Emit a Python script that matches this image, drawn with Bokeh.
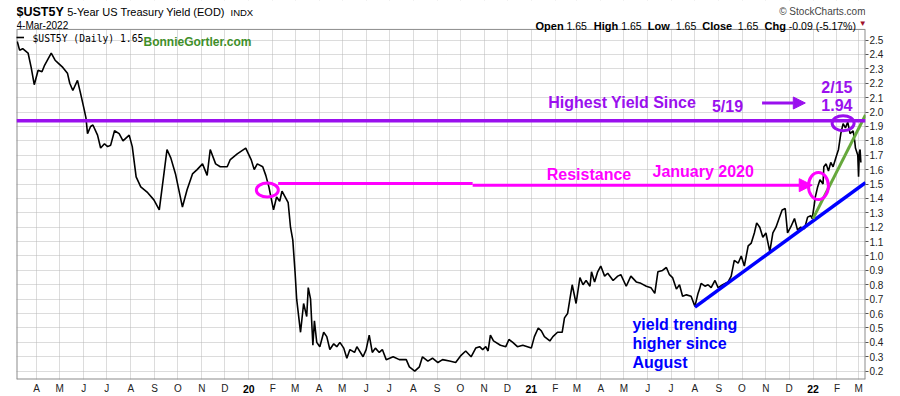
import pandas as pd
from bokeh.plotting import figure
from bokeh.models import (Range1d, FixedTicker, Label, Span, Arrow, NormalHead,
                          PrintfTickFormatter, DatetimeAxis)
from bokeh.embed import file_html
from bokeh.resources import INLINE

# ---------------- data ----------------
dates = [
    "2019-03-07", "2019-03-10", "2019-03-14", "2019-03-21", "2019-03-25", "2019-03-29",
    "2019-04-03", "2019-04-08", "2019-04-11", "2019-04-17", "2019-04-20", "2019-04-25",
    "2019-04-29", "2019-05-05", "2019-05-11", "2019-05-14", "2019-05-18", "2019-05-24",
    "2019-05-28", "2019-06-02", "2019-06-04", "2019-06-06", "2019-06-10", "2019-06-13",
    "2019-06-19", "2019-06-23", "2019-06-28", "2019-07-02", "2019-07-06", "2019-07-11",
    "2019-07-17", "2019-07-22", "2019-07-30", "2019-08-03", "2019-08-08", "2019-08-14",
    "2019-08-23", "2019-08-31", "2019-09-07", "2019-09-13", "2019-09-17", "2019-09-22",
    "2019-09-28", "2019-10-07", "2019-10-13", "2019-10-20", "2019-10-26", "2019-11-02",
    "2019-11-08", "2019-11-12", "2019-11-19", "2019-11-25", "2019-12-04", "2019-12-08",
    "2019-12-17", "2019-12-28",
    "2020-01-04", "2020-01-08", "2020-01-12", "2020-01-19", "2020-01-23", "2020-01-27",
    "2020-02-02", "2020-02-06", "2020-02-10", "2020-02-13", "2020-02-17", "2020-02-21",
    "2020-02-24", "2020-02-27", "2020-03-01", "2020-03-03", "2020-03-08", "2020-03-12",
    "2020-03-16", "2020-03-18", "2020-03-21", "2020-03-24", "2020-03-26", "2020-03-29",
    "2020-04-02", "2020-04-07", "2020-04-11", "2020-04-15", "2020-04-20", "2020-04-24",
    "2020-04-28", "2020-05-03", "2020-05-07", "2020-05-11", "2020-05-17", "2020-05-20",
    "2020-05-28", "2020-06-01", "2020-06-05", "2020-06-09", "2020-06-13", "2020-06-18",
    "2020-06-22", "2020-06-27", "2020-07-06", "2020-07-14", "2020-07-23", "2020-07-27",
    "2020-08-03", "2020-08-09", "2020-08-13", "2020-08-20", "2020-08-26", "2020-09-02",
    "2020-09-08", "2020-09-17", "2020-09-25", "2020-10-02", "2020-10-08", "2020-10-15",
    "2020-10-21", "2020-10-26", "2020-10-30", "2020-11-03", "2020-11-06", "2020-11-09",
    "2020-11-13", "2020-11-22", "2020-11-29", "2020-12-03", "2020-12-08", "2020-12-14",
    "2020-12-21", "2020-12-27",
    "2021-01-01", "2021-01-05", "2021-01-10", "2021-01-14", "2021-01-18", "2021-01-25",
    "2021-01-29", "2021-02-04", "2021-02-10", "2021-02-13", "2021-02-17", "2021-02-20",
    "2021-02-23", "2021-02-28", "2021-03-05", "2021-03-09", "2021-03-13", "2021-03-18",
    "2021-03-20", "2021-03-24", "2021-03-28", "2021-04-01", "2021-04-06", "2021-04-10",
    "2021-04-17", "2021-04-23", "2021-04-27", "2021-05-04", "2021-05-10", "2021-05-17",
    "2021-05-23", "2021-05-30", "2021-06-05", "2021-06-10", "2021-06-14", "2021-06-20",
    "2021-06-25", "2021-06-29", "2021-07-03", "2021-07-08", "2021-07-12", "2021-07-16",
    "2021-07-21", "2021-07-27", "2021-08-01", "2021-08-05", "2021-08-07", "2021-08-09",
    "2021-08-14", "2021-08-18", "2021-08-22", "2021-08-27", "2021-08-31", "2021-09-06",
    "2021-09-13", "2021-09-17", "2021-09-21", "2021-09-26", "2021-09-30", "2021-10-04",
    "2021-10-09", "2021-10-13", "2021-10-17", "2021-10-20", "2021-10-24", "2021-10-28",
    "2021-11-01", "2021-11-06", "2021-11-10", "2021-11-14", "2021-11-18", "2021-11-22",
    "2021-11-26", "2021-11-29", "2021-12-03", "2021-12-08", "2021-12-12", "2021-12-16",
    "2021-12-21", "2021-12-25", "2021-12-29", "2021-12-31",
    "2022-01-03", "2022-01-04", "2022-01-07", "2022-01-10", "2022-01-14", "2022-01-15",
    "2022-01-18", "2022-01-21", "2022-01-24", "2022-01-27", "2022-01-31", "2022-02-03",
    "2022-02-06", "2022-02-09", "2022-02-12", "2022-02-15", "2022-02-18", "2022-02-22",
    "2022-02-24", "2022-02-25", "2022-02-28", "2022-03-01", "2022-03-02", "2022-03-03",
    "2022-03-04",
]
yields = [
    2.49, 2.43, 2.44, 2.41, 2.31, 2.19,
    2.29, 2.28, 2.32, 2.38, 2.41, 2.36,
    2.34, 2.31, 2.27, 2.20, 2.15, 2.22,
    2.13, 2.01, 1.96, 1.85, 1.90, 1.91,
    1.84, 1.75, 1.78, 1.76, 1.77, 1.87,
    1.85, 1.80, 1.84, 1.76, 1.55, 1.48,
    1.44, 1.39, 1.32, 1.57, 1.74, 1.68,
    1.57, 1.34, 1.46, 1.57, 1.60, 1.64,
    1.56, 1.74, 1.64, 1.62, 1.62, 1.67,
    1.71, 1.75,
    1.67, 1.60, 1.64, 1.62, 1.56, 1.48,
    1.32, 1.41, 1.38, 1.45, 1.41, 1.37,
    1.20, 1.11, 0.88, 0.70, 0.47, 0.67,
    0.58, 0.78, 0.70, 0.38, 0.55, 0.40,
    0.37, 0.47, 0.44, 0.35, 0.39, 0.37,
    0.40, 0.36, 0.29, 0.35, 0.33, 0.37,
    0.30, 0.35, 0.45, 0.33, 0.36, 0.33,
    0.35, 0.28, 0.30, 0.28, 0.28, 0.23,
    0.20, 0.23, 0.30, 0.27, 0.29, 0.26,
    0.28, 0.27, 0.26, 0.31, 0.34, 0.30,
    0.36, 0.37, 0.35, 0.37, 0.34, 0.45,
    0.41, 0.38, 0.37, 0.42, 0.40, 0.37,
    0.38, 0.37,
    0.36, 0.44, 0.50, 0.48, 0.44, 0.41,
    0.44, 0.47, 0.47, 0.57, 0.60, 0.70,
    0.80, 0.67, 0.85, 0.80, 0.83, 0.79,
    0.89, 0.82, 0.89, 0.93, 0.86, 0.88,
    0.83, 0.86, 0.87, 0.79, 0.86, 0.82,
    0.81, 0.79, 0.78, 0.74, 0.89, 0.90,
    0.92, 0.87, 0.85, 0.77, 0.80, 0.72,
    0.73, 0.72, 0.65, 0.74, 0.77, 0.81,
    0.79, 0.80, 0.78, 0.83, 0.78, 0.80,
    0.82, 0.86, 0.97, 0.95, 1.00, 0.93,
    1.07, 1.09, 1.16, 1.23, 1.20, 1.13,
    1.16, 1.03, 1.16, 1.20, 1.26, 1.32,
    1.33, 1.16, 1.20, 1.26, 1.18, 1.20,
    1.19, 1.27, 1.28, 1.26,
    1.37, 1.41, 1.48, 1.53, 1.50, 1.62,
    1.64, 1.59, 1.65, 1.62, 1.69, 1.74,
    1.85, 1.92, 1.89, 1.93, 1.85, 1.87,
    1.80, 1.75, 1.70, 1.55, 1.72, 1.74,
    1.65,
]

month_ticks = [
    "2019-04-01", "2019-05-01", "2019-06-01", "2019-07-01", "2019-08-01", "2019-09-01",
    "2019-10-01", "2019-11-01", "2019-12-01", "2020-01-01", "2020-02-01", "2020-03-01",
    "2020-04-01", "2020-05-01", "2020-06-01", "2020-07-01", "2020-08-01", "2020-09-01",
    "2020-10-01", "2020-11-01", "2020-12-01", "2021-01-01", "2021-02-01", "2021-03-01",
    "2021-04-01", "2021-05-01", "2021-06-01", "2021-07-01", "2021-08-01", "2021-09-01",
    "2021-10-01", "2021-11-01", "2021-12-01", "2022-01-01", "2022-02-01", "2022-03-01",
]
month_labels = [
    "A", "M", "J", "J", "A", "S", "O", "N", "D", "", "F", "M",
    "A", "M", "J", "J", "A", "S", "O", "N", "D", "", "F", "M",
    "A", "M", "J", "J", "A", "S", "O", "N", "D", "", "F", "M",
]
year_ticks = ["2020-01-01", "2021-01-01", "2022-01-01"]
year_labels = ["20", "21", "22"]
y_ticks = [0.2, 0.3, 0.4, 0.5, 0.6, 0.7, 0.8, 0.9, 1.0, 1.1, 1.2, 1.3,
           1.4, 1.5, 1.6, 1.7, 1.8, 1.9, 2.0, 2.1, 2.2, 2.3, 2.4, 2.5]

# annotation values
high_level = 1.94
blue_trend = [("2021-08-01", 0.645), ("2022-03-10", 1.51)]
green_trend = [("2022-01-01", 1.26), ("2022-03-10", 1.98)]
series_label = "$UST5Y (Daily) 1.65"

PURPLE = "#9a10ee"
MAGENTA = "#ff00ff"
BLUE = "#0000ff"
GREEN = "#66a83c"
BORDER = "#8c8c8c"
SANS = "Liberation Sans"

X0, X1 = "2019-03-06", "2022-03-10"   # visible date span
Y0, Y1 = 0.142, 2.574                 # visible yield span of the chart panel
Y_HEADER = 2.775                      # room above the panel for the header texts


def ms(s):
    return pd.Timestamp(s).value / 1e6


p = figure(width=896, height=396, x_axis_type="datetime", y_axis_location="right",
           output_backend="svg", toolbar_location=None, title=None,
           x_range=Range1d(ms(X0), ms(X1)), y_range=Range1d(Y0, Y_HEADER),
           min_border_left=16, min_border_right=31, min_border_top=0, min_border_bottom=16)
p.background_fill_color = "white"
p.border_fill_color = "white"
p.outline_line_color = None

# ---- axes ----
xt = FixedTicker(ticks=[ms(d) for d in month_ticks])
p.xaxis.ticker = xt
p.xaxis.major_label_overrides = {ms(d): lab for d, lab in zip(month_ticks, month_labels)}
p.xaxis.axis_line_color = None
p.xaxis.major_tick_line_color = None
p.xaxis.major_tick_out = 0
p.xaxis.major_tick_in = 0
p.xaxis.minor_tick_line_color = None
p.xaxis.major_label_standoff = 3
p.xaxis.major_label_text_font = SANS
p.xaxis.major_label_text_font_size = "10px"
p.xaxis.major_label_text_color = "#222222"

year_axis = DatetimeAxis(ticker=FixedTicker(ticks=[ms(d) for d in year_ticks]),
                         major_label_overrides={ms(d): lab for d, lab in zip(year_ticks, year_labels)},
                         axis_line_color=None, major_tick_line_color=None,
                         major_tick_out=0, major_tick_in=0, minor_tick_line_color=None,
                         major_label_standoff=-12, major_label_text_font=SANS,
                         major_label_text_font_size="10.5px", major_label_text_font_style="bold",
                         major_label_text_color="black")
p.add_layout(year_axis, "below")

p.yaxis.ticker = FixedTicker(ticks=y_ticks)
p.yaxis.formatter = PrintfTickFormatter(format="%.1f")
p.yaxis.axis_line_color = None
p.yaxis.major_tick_in = 0
p.yaxis.major_tick_out = 3
p.yaxis.major_tick_line_color = "#555555"
p.yaxis.minor_tick_line_color = None
p.yaxis.major_label_standoff = 1
p.yaxis.major_label_text_font = SANS
p.yaxis.major_label_text_font_size = "10px"
p.yaxis.major_label_text_color = "#222222"

p.xgrid.ticker = xt
for g in (p.xgrid, p.ygrid):
    g.grid_line_color = "#b8b8b8"
    g.grid_line_dash = "1 1"
    g.grid_line_width = 1

# white header strip above the chart panel, and the panel border
p.quad(left=[ms(X0)], right=[ms(X1)], bottom=[Y1], top=[Y_HEADER],
       fill_color="white", line_color=None)
p.line([ms(X0), ms(X1)], [Y1, Y1], line_color=BORDER, line_width=1)
p.line([ms(X0), ms(X1)], [Y0, Y0], line_color=BORDER, line_width=2)
p.line([ms(X0), ms(X0)], [Y0, Y1], line_color=BORDER, line_width=2)
p.line([ms(X1), ms(X1)], [Y0, Y1], line_color=BORDER, line_width=2)

# ---- main series ----
p.line(pd.to_datetime(dates), yields, line_color="black", line_width=1.6, legend_label=" ")

leg = p.legend[0]
leg.location = (0, 339)
leg.margin = 0
leg.padding = 3
leg.border_line_color = None
leg.background_fill_alpha = 0
leg.glyph_width = 8
leg.glyph_height = 6
leg.label_height = 6
leg.label_standoff = 0
leg.label_text_font_size = "2px"

# ---- trend lines / annotations ----
p.add_layout(Span(location=high_level, dimension="width", line_color=PURPLE, line_width=3.5))
p.line([ms(blue_trend[0][0]), ms(blue_trend[1][0])], [blue_trend[0][1], blue_trend[1][1]],
       line_color=BLUE, line_width=3.5)
p.line([ms(green_trend[0][0]), ms(green_trend[1][0])], [green_trend[0][1], green_trend[1][1]],
       line_color=GREEN, line_width=3)

p.line([ms("2020-02-08"), ms("2020-10-17")], [1.503, 1.503], line_color=MAGENTA, line_width=3)
p.add_layout(Arrow(end=NormalHead(size=13, fill_color=MAGENTA, line_color=MAGENTA),
                   x_start=ms("2020-10-17"), y_start=1.492, x_end=ms("2021-12-31"), y_end=1.492,
                   line_color=MAGENTA, line_width=3))
p.add_layout(Arrow(end=NormalHead(size=12, fill_color=PURPLE, line_color=PURPLE),
                   x_start=ms("2021-10-27"), y_start=2.063, x_end=ms("2021-12-22"), y_end=2.063,
                   line_color=PURPLE, line_width=3))

p.ellipse(x=[ms("2022-02-09")], y=[1.923], width=22, height=15, width_units="screen",
          height_units="screen", fill_color=None, line_color=PURPLE, line_width=3)
p.ellipse(x=[ms("2020-01-25")], y=[1.458], width=22, height=14, width_units="screen",
          height_units="screen", fill_color=None, line_color=MAGENTA, line_width=3)
p.ellipse(x=[ms("2022-01-08")], y=[1.486], width=20, height=27, width_units="screen",
          height_units="screen", fill_color=None, line_color=MAGENTA, line_width=3)


def note(text, x, y, color, align="left", size="16px"):
    p.add_layout(Label(x=ms(x), y=y, text=text, text_align=align, text_baseline="alphabetic",
                       text_font=SANS, text_font_size=size, text_font_style="bold",
                       text_color=color))


note("Highest Yield Since", "2021-01-23", 2.063, PURPLE)
note("5/19", "2021-08-23", 2.036, PURPLE)
note("2/15", "2022-02-01", 2.174, PURPLE, align="center")
note("1.94", "2022-02-01", 2.052, PURPLE, align="center")
note("Resistance", "2021-01-21", 1.567, MAGENTA)
note("January 2020", "2021-06-07", 1.590, MAGENTA)
note("yield trending", "2021-05-12", 0.523, BLUE)
note("higher since", "2021-05-12", 0.391, BLUE)
note("August", "2021-05-12", 0.257, BLUE)


def head(text, x, y, size, bold=False, color="black", align="left", font=SANS):
    p.add_layout(Label(x=x, y=y, x_units="screen", y_units="screen", text=text,
                       text_align=align, text_baseline="alphabetic", text_font=font,
                       text_font_size=size, text_font_style="bold" if bold else "normal",
                       text_color=color))


# header (screen px from the frame's bottom-left corner)
head("$UST5Y", 0, 367.3, "12.5px", bold=True)
head("5-Year US Treasury Yield (EOD)", 50.7, 367.3, "11px")
head("INDX", 214, 367.3, "9.5px")
head("4-Mar-2022", 0, 354, "10px")
head("\u00a9 StockCharts.com", 849, 367.7, "10px", color="#444444", align="right")
head("Open", 519, 354, "11px", bold=True)
head("1.65", 550, 354, "10.5px")
head("High", 577.3, 354, "11px", bold=True)
head("1.65", 604.7, 354, "10.5px")
head("Low", 631.3, 354, "11px", bold=True)
head("1.65", 659.3, 354, "10.5px")
head("Close", 685.7, 354, "11px", bold=True)
head("1.65", 721.3, 354, "10.5px")
head("Chg", 748, 354, "11px", bold=True)
head("-0.09 (-5.17%)", 772.3, 354, "10.5px")
head("\u25bc", 842.3, 355.7, "8px", color="#a0102a")
head(series_label, 16, 341.5, "9.7px", font="DejaVu Sans Mono")
head("BonnieGortler.com", 127, 337.3, "12px", bold=True, color="#3f8f2a")

open("out.html", "w").write(file_html(p, INLINE))
